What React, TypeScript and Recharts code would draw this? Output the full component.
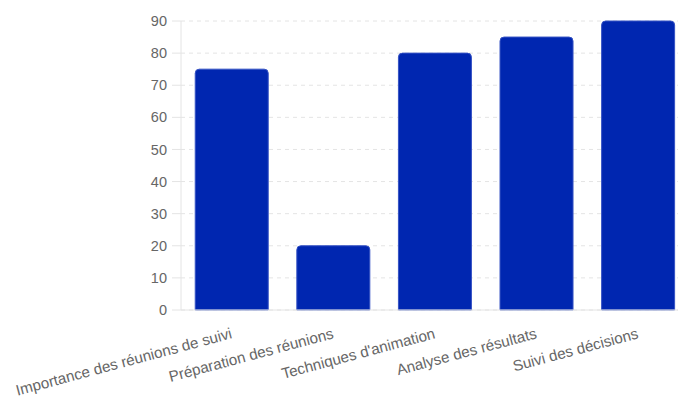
import { BarChart, Bar, XAxis, YAxis, CartesianGrid } from "recharts";

const categories = [
  "Importance des réunions de suivi",
  "Préparation des réunions",
  "Techniques d'animation",
  "Analyse des résultats",
  "Suivi des décisions",
];
const scores = [75, 20, 80, 85, 90];
const yTicks = [0, 10, 20, 30, 40, 50, 60, 70, 80, 90];

const data = categories.map((name, i) => ({ name, score: scores[i] }));

const FONT = "'Liberation Sans', Arial, sans-serif";
const GRID = "#e4e4e4";

// slanted category labels, anchored at their right end under the bar center
function SlantTick(props: any) {
  const { x, y, payload } = props;
  const ty = y + 28;
  return (
    <text
      x={x + 1}
      y={ty}
      textAnchor="end"
      transform={`rotate(-15, ${x + 1}, ${ty})`}
      fill="#666"
      fontSize={15.2}
      fontFamily={FONT}
    >
      {payload.value}
    </text>
  );
}

export default function App() {
  return (
    <div style={{ position: "fixed", left: 0, top: 0, width: 678, height: 401, overflow: "hidden", background: "#fff" }}>
      <BarChart
        width={700}
        height={401}
        data={data}
        margin={{ top: 21, right: 11, bottom: 0, left: 0 }}
        barCategoryGap="14%"
      >
        <CartesianGrid vertical={false} stroke={GRID} strokeDasharray="4 4" />
        <XAxis
          dataKey="name"
          interval={0}
          height={91}
          tickSize={0}
          tickMargin={0}
          tickLine={false}
          axisLine={{ stroke: GRID }}
          tick={<SlantTick />}
        />
        <YAxis
          domain={[0, 90]}
          ticks={yTicks}
          width={181}
          tickSize={9}
          tickMargin={5}
          axisLine={{ stroke: GRID }}
          tickLine={{ stroke: GRID }}
          tick={{ fill: "#666", fontSize: 14.5, fontFamily: FONT }}
        />
        <Bar
          dataKey="score"
          fill="#0026b0"
          stroke="#3552c4"
          strokeWidth={1}
          radius={[4, 4, 0, 0]}
          isAnimationActive={false}
        />
      </BarChart>
    </div>
  );
}
